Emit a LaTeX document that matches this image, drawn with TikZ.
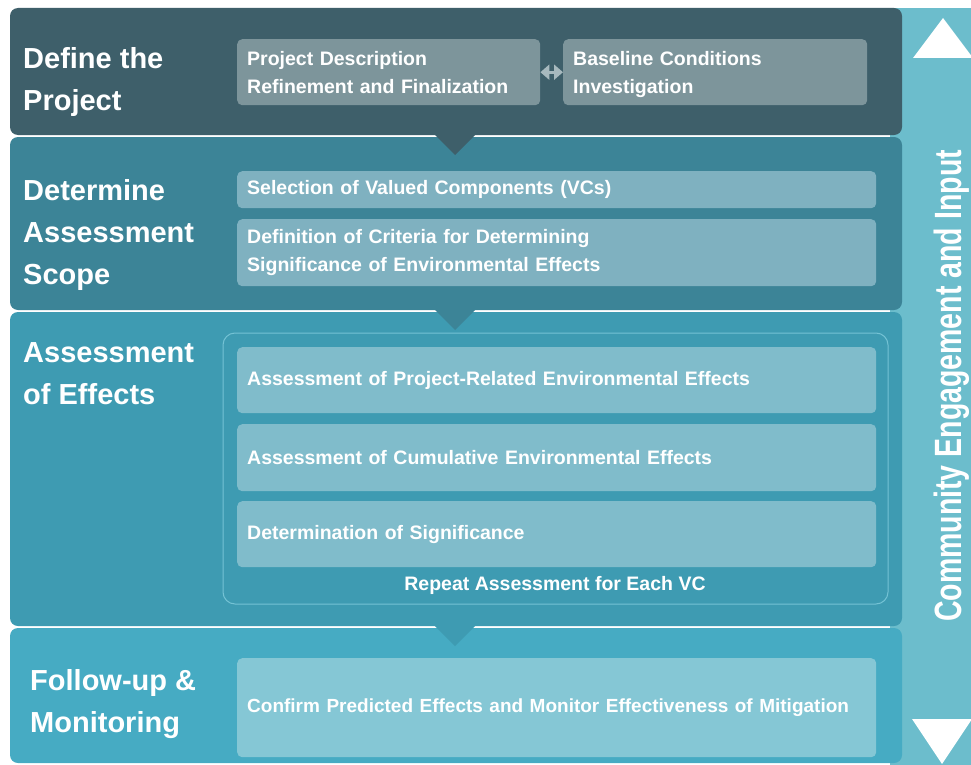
\documentclass[tikz,border=0pt]{standalone}
\usepackage{fontspec}
\setmainfont{Liberation Sans}
\newfontfamily\narrowfont[FakeStretch=0.75]{Liberation Sans}
\usetikzlibrary{arrows.meta}
\definecolor{bandone}{RGB}{62,95,106}
\definecolor{bandtwo}{RGB}{60,132,151}
\definecolor{bandthree}{RGB}{62,155,178}
\definecolor{bandfour}{RGB}{70,171,195}
\definecolor{sidebar}{RGB}{108,189,204}
\definecolor{boxone}{RGB}{125,149,155}
\definecolor{boxtwo}{RGB}{127,177,192}
\definecolor{boxthree}{RGB}{128,188,203}
\definecolor{boxfour}{RGB}{133,199,213}
\definecolor{frameline}{RGB}{116,194,212}
\definecolor{arrowgrey}{RGB}{167,185,190}

\begin{document}
\begin{tikzpicture}[x=1pt,y=-1pt,
    title/.style={anchor=north west,inner sep=0pt,align=left,text=white,
      font=\fontsize{29}{42}\selectfont\bfseries},
    stagebox/.style={anchor=north west,rounded corners=5pt,inner xsep=10pt,
      inner ysep=0pt,align=left,text=white,
      font=\fontsize{19.5}{28}\selectfont\bfseries}]
    \useasboundingbox (0,0) rectangle (971,765);
    \fill[white] (0,0) rectangle (971,765);
    % side bar
    \fill[sidebar] (890,8) rectangle (971,765);
    \fill[white] (943,18) -- (973,58) -- (913,58) -- cycle;
    \fill[white] (912,719) -- (972,719) -- (942,764) -- cycle;
    \node[rotate=90,anchor=base,text=white,
      font=\narrowfont\fontsize{38}{40}\selectfont\bfseries] (input) at (961,386)
      {Community Engagement and Input};
    % bands
    \foreach \ytop/\ybot/\col in {8/135/bandone,137/310/bandtwo,312/626/bandthree,628/763/bandfour}{
      \fill[\col,rounded corners=8pt] (10,\ytop) rectangle (902,\ybot);
    }
    \foreach \y/\col in {135/bandone,310/bandtwo,626/bandthree}{
      \fill[\col] (433,\y-2) -- (477,\y-2) -- (455,\y+20) -- cycle;
    }
    % titles
    \node[title] (define) at (23,47) {Define the\\Project};
    \node[title] (scope) at (23,179) {Determine\\Assessment\\Scope};
    \node[title] (effects) at (23,342) {Assessment\\of Effects};
    \node[title] (follow) at (30,669) {Follow-up \&\\Monitoring};
    % define the project
    \node[stagebox,fill=boxone,text width=283pt,minimum height=66pt] (pd) at (237,39)
      {Project Description\\Refinement and Finalization};
    \node[stagebox,fill=boxone,text width=284pt,minimum height=66pt] (bc) at (563,39)
      {\strut Baseline Conditions\\Investigation};
    \draw[arrowgrey,line width=3pt,{Triangle[width=15pt,length=9pt]}-{Triangle[width=15pt,length=9pt]}] (pd) -- (bc);
    % scope
    \node[stagebox,fill=boxtwo,text width=619pt,minimum height=37pt] (vc) at (237,171)
      {Selection of Valued Components (VCs)};
    \node[stagebox,fill=boxtwo,text width=619pt,minimum height=67pt] (crit) at (237,219)
      {Definition of Criteria for Determining\\Significance of Environmental Effects};
    % assessment of effects
    \draw[frameline,line width=1pt,rounded corners=12pt] (223,333) rectangle (888,604);
    \node[stagebox,fill=boxthree,text width=619pt,minimum height=66pt] (proj) at (237,347)
      {Assessment of Project-Related Environmental Effects};
    \node[stagebox,fill=boxthree,text width=619pt,minimum height=67pt] (cum) at (237,424)
      {Assessment of Cumulative Environmental Effects};
    \node[stagebox,fill=boxthree,text width=619pt,minimum height=66pt] (sig) at (237,501)
      {Determination of Significance};
    \node[text=white,font=\fontsize{19.5}{28}\selectfont\bfseries] (repeat) at (555,585)
      {Repeat Assessment for Each VC};
    % follow-up
    \node[stagebox,fill=boxfour,text width=619pt,minimum height=99pt] (confirm) at (237,658)
      {\fontsize{19}{28}\selectfont Confirm Predicted Effects and Monitor Effectiveness of Mitigation};
\end{tikzpicture}
\end{document}
